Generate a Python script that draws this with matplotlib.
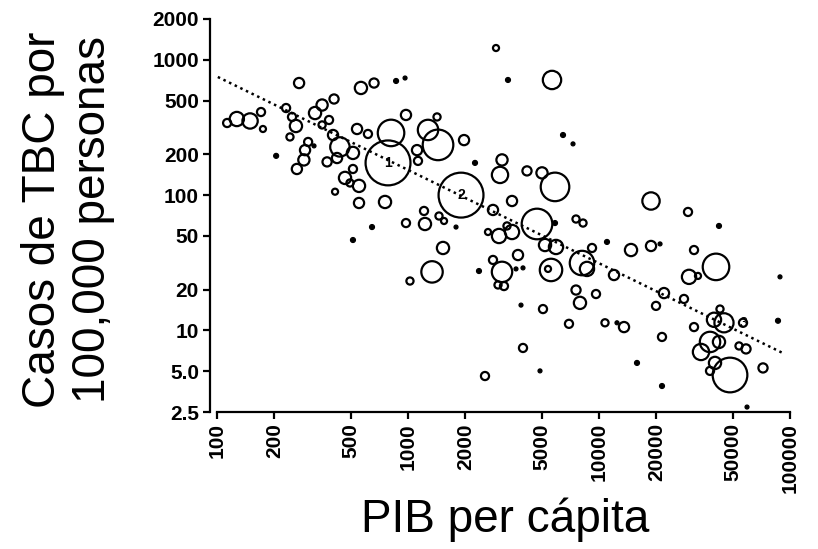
import matplotlib
matplotlib.use("Agg")
from matplotlib import pyplot as plt
import numpy as np

plt.rcParams["font.family"] = ["Liberation Sans", "DejaVu Sans"]

# PIB per capita, casos de TBC por 100,000 y poblacion (millones) por pais
gdp = [113, 127, 149, 170, 174, 230, 269, 204, 247, 259, 241, 326, 355, 410, 386,
       355, 300, 289, 285, 262, 322, 405, 440, 541, 617, 515, 425, 377, 515, 468,
       554, 497, 415, 554, 758, 567, 664, 866, 965, 976, 1419, 815, 1273, 1436, 1965,
       1115, 1128, 786, 2243, 3106, 3032, 4198, 5030, 1895, 1213, 1453, 1544, 976, 1227,
       1784, 648, 515, 1525, 1336, 1024, 2353, 2786, 3504, 2889, 3338, 5675, 6480, 7310,
       5884, 18720, 29240, 4736, 5884, 7580, 8247, 42480, 3298, 3504, 2996, 2623, 5216,
       5955, 9193, 11010, 14710, 18720, 20870, 31440, 3766, 2786, 3106, 3676, 4000, 2960,
       3180, 5607, 5408, 8147, 8650, 11980, 40980, 29600, 32980, 88630, 7580, 9645, 7950,
       3905, 5090, 21890, 27860, 19880, 43000, 40000, 45120, 56750, 86530, 6963, 10750,
       12420, 13520, 31440, 21370, 4000, 38130, 42480, 34200, 54080, 58840, 15810, 40490,
       38130, 48520, 72220, 4910, 2530, 21370, 59560]
tb = [341, 365, 353, 411, 308, 440, 673, 195, 378, 324, 269, 404, 463, 513, 359,
      330, 247, 215, 182, 156, 231, 278, 227, 308, 283, 205, 188, 176, 156, 134,
      117, 123, 106, 87.5, 89, 619, 673, 697, 733, 391, 378, 288, 303, 235, 255,
      215, 179, 173, 173, 182, 141, 151, 146, 100, 76.4, 70.1, 64.4, 62.2, 61.2,
      58.1, 58.1, 46.6, 40.7, 27.1, 23.2, 27.5, 77.7, 90.5, 1221, 709, 709, 278, 239,
      115, 90.5, 75.1, 61.2, 62.2, 66.6, 62.2, 59.2, 59.2, 53.4, 49.9, 53.4, 42.8,
      41.4, 40.7, 45.1, 39.3, 42.1, 43.6, 39.3, 36.1, 33.2, 27.1, 28.5, 29.0, 21.7,
      21.3, 28.0, 28.5, 31.5, 28.5, 25.7, 29.5, 24.9, 25.3, 24.9, 19.9, 18.6, 16.0,
      15.4, 14.4, 18.9, 17.1, 15.2, 14.4, 12.0, 11.4, 11.4, 11.8, 11.2, 11.4,
      11.4, 10.6, 10.6, 8.96, 7.43, 8.23, 8.23, 6.94, 7.69, 7.31, 5.76, 5.76,
      5.03, 4.69, 5.29, 5.03, 4.61, 3.89, 2.72]
pop = [36, 111, 128, 36, 20, 36, 57, 14, 36, 82, 28, 82, 69, 46, 36,
       28, 36, 57, 69, 57, 9, 57, 205, 57, 36, 82, 57, 46, 36, 82,
       82, 28, 20, 57, 82, 82, 46, 14, 9, 57, 28, 384, 227, 511, 57,
       57, 36, 1100, 14, 69, 145, 46, 69, 1100, 36, 28, 20, 36, 82,
       9, 14, 14, 82, 250, 28, 14, 57, 57, 20, 14, 184, 14, 9,
       445, 164, 36, 511, 14, 28, 28, 14, 28, 111, 111, 20, 82,
       111, 36, 14, 82, 57, 9, 36, 57, 36, 227, 9, 9, 28,
       36, 275, 20, 327, 111, 57, 384, 111, 20, 9, 46, 36, 82,
       9, 36, 57, 36, 36, 28, 111, 200, 36, 14, 36, 28,
       9, 57, 36, 36, 36, 227, 82, 145, 28, 46, 14, 82,
       36, 656, 46, 9, 36, 14, 9]

# paises senalados con numero
labels = {47: "1", 53: "2", 120: "3"}

# recta de regresion (extremos)
fit_gdp = [101, 92000]
fit_tb = [746, 6.8]

Y_TICKS = [2.5, 5, 10, 20, 50, 100, 200, 500, 1000, 2000]
Y_TICK_LABELS = ["2.5", "5.0", "10", "20", "50", "100", "200", "500", "1000", "2000"]
X_TICKS = [100, 200, 500, 1000, 2000, 5000, 10000, 20000, 50000, 100000]

gdp = np.array(gdp, dtype=float)
tb = np.array(tb, dtype=float)
pop = np.array(pop, dtype=float)
sizes = pop * 0.95
filled = pop < 16

fig = plt.figure(figsize=(8.18, 5.49), dpi=100)
ax = fig.add_axes([217 / 818, 137 / 549, 573 / 818, 393 / 549])

ax.plot(fit_gdp, fit_tb, color="black", linewidth=1.8, linestyle=(0, (1, 1.5)), zorder=3)

ax.scatter(gdp[~filled], tb[~filled], s=sizes[~filled], facecolors="none",
           edgecolors="black", linewidths=1.6, zorder=2, clip_on=False)
ax.scatter(gdp[filled], tb[filled], s=sizes[filled], facecolors="black",
           edgecolors="black", linewidths=0.8, zorder=2, clip_on=False)

for idx, txt in labels.items():
    ax.text(gdp[idx], tb[idx], txt, ha="center", va="center", fontsize=10,
            fontweight="bold" if txt != "3" else "normal", zorder=4)

ax.set_xscale("log")
ax.set_yscale("log")
ax.set_xlim(100, 100000)
ax.set_ylim(2.5, 2000)
ax.set_xticks(X_TICKS)
ax.set_xticklabels([str(t) for t in X_TICKS], rotation=90)
ax.set_yticks(Y_TICKS)
ax.set_yticklabels(Y_TICK_LABELS)
ax.minorticks_off()

for side in ["top", "right"]:
    ax.spines[side].set_visible(False)
ax.spines["left"].set_position(("outward", 5))
ax.spines["left"].set_bounds(2.5, 2000)
ax.spines["bottom"].set_bounds(100, 100000)
for side in ["left", "bottom"]:
    ax.spines[side].set_linewidth(1.6)

ax.tick_params(axis="both", which="major", direction="out", length=5, width=1.6,
               labelsize=15, pad=3)
for lab in ax.get_xticklabels() + ax.get_yticklabels():
    lab.set_fontweight("bold")

fig.text(68 / 818, 1 - 220 / 549, "Casos de TBC por\n100,000 personas", rotation=90,
         ha="center", va="center", fontsize=33, linespacing=1.15)
fig.text(505 / 818, 1 - 520 / 549, "PIB per cápita", ha="center", va="center",
         fontsize=33)

fig.savefig("out.png", dpi=100)
